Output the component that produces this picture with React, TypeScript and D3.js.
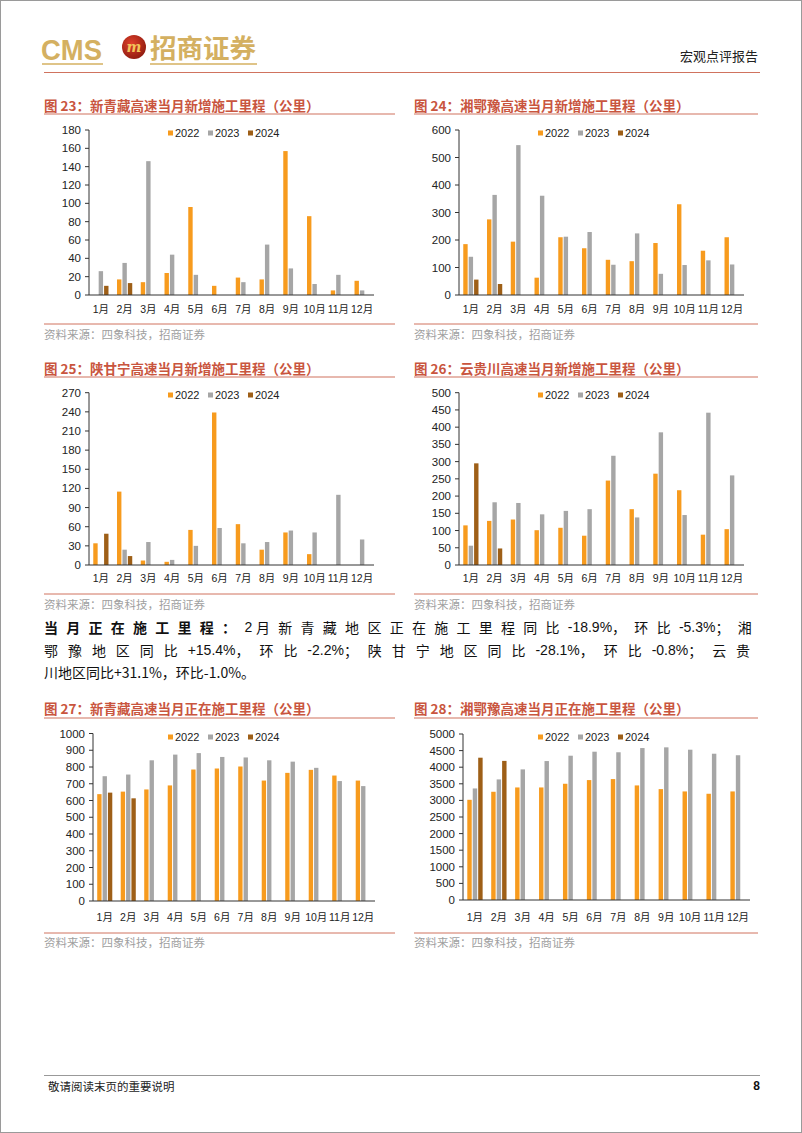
import React, { useLayoutEffect, useRef, useState } from 'react';
import * as d3 from 'd3';

const months = ['1月', '2月', '3月', '4月', '5月', '6月', '7月', '8月', '9月', '10月', '11月', '12月'];
const years = ['2022', '2023', '2024'];

// 图23 新青藏 当月新增
const xqzNew2022 = [null, 17, 14, 24, 96, 10, 19, 17, 157, 86, 5, 15.5];
const xqzNew2023 = [26, 35, 146, 44, 22, 0, 14, 55, 29, 12, 22, 5];
const xqzNew2024 = [10, 13];
// 图24 湘鄂豫 当月新增
const xeyNew2022 = [185, 275, 194, 63, 210, 170, 128, 123, 189, 330, 161, 210];
const xeyNew2023 = [139, 364, 545, 361, 212, 229, 110, 224, 77, 109, 126, 111];
const xeyNew2024 = [56, 40];
// 图25 陕甘宁 当月新增
const sgnNew2022 = [34, 115, 7, 5, 55, 239, 64, 24, 51, 17, 0, 0];
const sgnNew2023 = [0, 24, 36, 8, 30, 58, 34, 36, 54, 51, 110, 40];
const sgnNew2024 = [49, 14];
// 图26 云贵川 当月新增
const ygcNew2022 = [115, 128, 132, 101, 108, 85, 245, 162, 265, 217, 88, 104];
const ygcNew2023 = [56, 182, 180, 147, 157, 162, 317, 138, 385, 145, 442, 260];
const ygcNew2024 = [295, 48];
// 图27 新青藏 当月正在施工
const xqzOn2022 = [638, 653, 666, 690, 785, 791, 803, 719, 765, 783, 749, 719];
const xqzOn2023 = [745, 755, 840, 874, 883, 860, 857, 840, 832, 795, 716, 686];
const xqzOn2024 = [647, 613];
// 图28 湘鄂豫 当月正在施工
const xeyOn2022 = [3018, 3260, 3390, 3390, 3501, 3612, 3642, 3451, 3340, 3270, 3200, 3270];
const xeyOn2023 = [3360, 3632, 3934, 4185, 4346, 4467, 4450, 4577, 4598, 4527, 4406, 4360];
const xeyOn2024 = [4286, 4190];

const titles = [
  '图 23：新青藏高速当月新增施工里程（公里）',
  '图 24：湘鄂豫高速当月新增施工里程（公里）',
  '图 25：陕甘宁高速当月新增施工里程（公里）',
  '图 26：云贵川高速当月新增施工里程（公里）',
  '图 27：新青藏高速当月正在施工里程（公里）',
  '图 28：湘鄂豫高速当月正在施工里程（公里）',
];
const sourceText = '资料来源：四象科技，招商证券';

// paragraph segments: [text, isCJK, bold]
const paraLine1: [string, boolean, boolean][] = [
  ['当月正在施工里程：', true, true],
  ['2\u00A0', false, false],
  ['月新青藏地区正在施工里程同比', true, false],
  ['-18.9%', false, false],
  ['，环比', true, false],
  ['-5.3%', false, false],
  ['；湘', true, false],
];
const paraLine2: [string, boolean, boolean][] = [
  ['鄂豫地区同比', true, false],
  ['+15.4%', false, false],
  ['，环比', true, false],
  ['-2.2%', false, false],
  ['；陕甘宁地区同比', true, false],
  ['-28.1%', false, false],
  ['，环比', true, false],
  ['-0.8%', false, false],
  ['；云贵', true, false],
];
const paraLine3 = '川地区同比+31.1%，环比-1.0%。';

const COLORS = ['#F79B1E', '#A6A6A6', '#9E5F17'];
const RED = '#D0735E';
const GOLD = '#D4B061';
const NUM = '"Liberation Sans", Arial, "Noto Sans CJK SC", sans-serif';
const CJK = '"Noto Sans CJK SC", "Liberation Sans", sans-serif';

type Series = (number | null)[];

interface PanelProps {
  left: number;
  right: number;
  title: string;
  titleY: number;
  underlineY: number;
  axisX: number;
  plotRight: number;
  plotTop: number;
  plotBottom: number;
  max: number;
  step: number;
  legendY: number;
  xLabelY: number;
  sourceLineY: number;
  sourceTextY: number;
  series: Series[];
}

function Panel(p: PanelProps) {
  const x = d3.scaleBand<string>().domain(months).range([p.axisX, p.plotRight]);
  const y = d3.scaleLinear().domain([0, p.max]).range([p.plotBottom, p.plotTop]);
  const ticks = d3.range(0, p.max + p.step / 2, p.step);
  const bw = x.bandwidth();
  const barW = bw * 0.185;
  const barStep = bw * 0.228;
  const groupW = barStep * 2 + barW;
  const legendX = p.left + 124;
  return (
    <g>
      <text x={p.left} y={p.titleY} fontFamily={CJK} fontSize={13.5} fontWeight="bold" fill="#C9553E" dominantBaseline="central">
        {p.title}
      </text>
      <line x1={p.left} x2={p.right} y1={p.underlineY} y2={p.underlineY} stroke={RED} strokeWidth={1.2} />
      {p.series.map((s, si) =>
        months.map((m, mi) => {
          const v = s[mi];
          if (v === null || v === undefined) return null;
          const cx = (x(m) as number) + bw / 2 - groupW / 2 + si * barStep;
          return (
            <rect key={`${si}-${mi}`} x={cx} y={y(v)} width={barW} height={Math.max(0, y(0) - y(v))} fill={COLORS[si]} />
          );
        })
      )}
      <line x1={p.axisX} x2={p.axisX} y1={p.plotTop} y2={p.plotBottom} stroke="#333" strokeWidth={1} />
      {ticks.map((t) => (
        <g key={t}>
          <line x1={p.axisX - 4} x2={p.axisX} y1={y(t)} y2={y(t)} stroke="#333" strokeWidth={1} />
          <text x={p.axisX - 8} y={y(t)} textAnchor="end" dominantBaseline="central" fontFamily={NUM} fontSize={11.5} fill="#222">
            {t}
          </text>
        </g>
      ))}
      <line x1={p.axisX} x2={p.plotRight} y1={p.plotBottom} y2={p.plotBottom} stroke="#333" strokeWidth={1} />
      {months.map((m) => (
        <text key={m} x={(x(m) as number) + bw / 2} y={p.xLabelY} textAnchor="middle" dominantBaseline="central" fontFamily={NUM} fontSize={10.5} fill="#222">
          {m}
        </text>
      ))}
      {years.map((yr, i) => (
        <g key={yr}>
          <rect x={legendX + i * 40} y={p.legendY - 2.5} width={5} height={5} fill={COLORS[i]} />
          <text x={legendX + i * 40 + 7} y={p.legendY} dominantBaseline="central" fontFamily={NUM} fontSize={11} fill="#222">
            {yr}
          </text>
        </g>
      ))}
      <line x1={p.left} x2={p.right} y1={p.sourceLineY} y2={p.sourceLineY} stroke={RED} strokeWidth={1} />
      <text x={p.left} y={p.sourceTextY} dominantBaseline="central" fontFamily={CJK} fontSize={11.5} fill="#A0A0A0">
        {sourceText}
      </text>
    </g>
  );
}

function JustifiedLine({ x, y, width, segs }: { x: number; y: number; width: number; segs: [string, boolean, boolean][] }) {
  const ref = useRef<SVGTextElement>(null);
  const [ls, setLs] = useState(0);
  useLayoutEffect(() => {
    if (!ref.current || ls !== 0) return;
    const len = ref.current.getComputedTextLength();
    const n = segs.filter((s) => s[1]).reduce((a, s) => a + s[0].length, 0);
    const sp = (width - len) / n;
    if (sp > 0) setLs(sp);
  });
  return (
    <text ref={ref} x={x} y={y} dominantBaseline="central" fontFamily={CJK} fontSize={14} fill="#111">
      {segs.map((s, i) => (
        <tspan key={i} fontWeight={s[2] ? 'bold' : 'normal'} fontFamily={s[1] ? CJK : NUM} style={{ letterSpacing: s[1] ? `${ls}px` : '0px' }}>
          {s[0]}
        </tspan>
      ))}
    </text>
  );
}

const rows = [
  { titleY: 105, underlineY: 114, plotTop: 130, plotBottom: 295, legendY: 133, xLabelY: 309, sourceLineY: 324, sourceTextY: 334 },
  { titleY: 368, underlineY: 377, plotTop: 392.7, plotBottom: 565, legendY: 395, xLabelY: 578, sourceLineY: 594, sourceTextY: 604 },
  { titleY: 708, underlineY: 718, plotTop: 733.5, plotBottom: 901, legendY: 737, xLabelY: 917, sourceLineY: 933, sourceTextY: 942 },
];

export default function App() {
  const L = { left: 44, right: 395 };
  const R = { left: 414, right: 758 };
  return (
    <div style={{ position: 'absolute', left: 0, top: 0 }}>
      <svg width={802} height={1133} style={{ display: 'block', background: '#fff' }}>
        <rect x={0.5} y={0.5} width={801} height={1132} fill="none" stroke="#9a9a9a" strokeWidth={1} />
        {/* header */}
        <text x={41} y={60} fontFamily={NUM} fontSize={29} fontWeight="bold" fill={GOLD} textLength={61} lengthAdjust="spacingAndGlyphs">CMS</text>
        <line x1={42} x2={103} y1={64} y2={64} stroke={GOLD} strokeWidth={1.5} />
        <defs>
          <radialGradient id="lg" cx="40%" cy="35%" r="70%">
            <stop offset="0%" stopColor="#E0402A" />
            <stop offset="100%" stopColor="#8E1B10" />
          </radialGradient>
        </defs>
        <circle cx={134} cy={47} r={12} fill="url(#lg)" />
        <text x={134} y={51.5} textAnchor="middle" fontFamily="DejaVu Serif, serif" fontStyle="italic" fontWeight="bold" fontSize={14} fill="#F2C45A">m</text>
        <text x={150} y={58} fontFamily={CJK} fontSize={26} fontWeight="bold" fill={GOLD} textLength={106} lengthAdjust="spacingAndGlyphs">招商证券</text>
        <line x1={150} x2={257} y1={64} y2={64} stroke={GOLD} strokeWidth={1.5} />
        <text x={758} y={55} textAnchor="end" dominantBaseline="central" fontFamily={CJK} fontSize={13} fill="#222">宏观点评报告</text>
        <line x1={44} x2={760} y1={72.5} y2={72.5} stroke={RED} strokeWidth={1} />

        <Panel {...L} {...rows[0]} title={titles[0]} axisX={89} plotRight={374} max={180} step={20} series={[xqzNew2022, xqzNew2023, xqzNew2024]} />
        <Panel {...R} {...rows[0]} title={titles[1]} axisX={459} plotRight={744} max={600} step={100} series={[xeyNew2022, xeyNew2023, xeyNew2024]} />
        <Panel {...L} {...rows[1]} title={titles[2]} axisX={89} plotRight={374} max={270} step={30} series={[sgnNew2022, sgnNew2023, sgnNew2024]} />
        <Panel {...R} {...rows[1]} title={titles[3]} axisX={459} plotRight={744} max={500} step={50} series={[ygcNew2022, ygcNew2023, ygcNew2024]} />
        <Panel {...L} {...rows[2]} title={titles[4]} axisX={93} plotRight={375} max={1000} step={100} series={[xqzOn2022, xqzOn2023, xqzOn2024]} />
        <Panel {...R} {...rows[2]} plotBottom={900} plotTop={734} title={titles[5]} axisX={463} plotRight={750} max={5000} step={500} series={[xeyOn2022, xeyOn2023, xeyOn2024]} />

        {/* paragraph */}
        <JustifiedLine x={44} y={627} width={716} segs={paraLine1} />
        <JustifiedLine x={44} y={650} width={716} segs={paraLine2} />
        <text x={44} y={672} dominantBaseline="central" fontFamily={CJK} fontSize={14} fill="#111">{paraLine3}</text>

        {/* footer */}
        <line x1={44} x2={760} y1={1075.5} y2={1075.5} stroke="#999" strokeWidth={1} />
        <text x={48} y={1086} dominantBaseline="central" fontFamily={CJK} fontSize={11.5} fill="#222">敬请阅读末页的重要说明</text>
        <text x={760} y={1086} textAnchor="end" dominantBaseline="central" fontFamily={NUM} fontSize={12} fontWeight="bold" fill="#111">8</text>
      </svg>
    </div>
  );
}
